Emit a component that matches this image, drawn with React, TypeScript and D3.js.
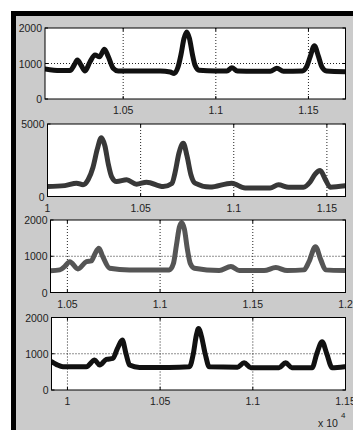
import * as d3 from 'd3';

// x positions are raw values (axis shows them in units of 10^4)
const panel1X = [10078, 10159, 10213, 10235, 10253, 10273, 10294, 10321, 10348, 10372, 10399, 10419, 10446, 10473, 10591, 10700, 10754, 10775, 10796, 10812, 10828, 10843, 10858, 10874, 10888, 10910, 10997, 11060, 11087, 11116, 11213, 11294, 11330, 11365, 11467, 11489, 11510, 11532, 11554, 11573, 11597, 11700];
const panel1Y = [845, 800, 800, 950, 1100, 950, 790, 1050, 1240, 1190, 1400, 1200, 865, 790, 790, 790, 760, 720, 900, 1250, 1700, 1890, 1700, 1250, 950, 810, 790, 790, 880, 790, 780, 780, 865, 780, 790, 900, 1200, 1500, 1200, 900, 790, 770];

const panel2X = [10000, 10093, 10156, 10191, 10218, 10244, 10268, 10289, 10308, 10327, 10344, 10371, 10425, 10478, 10532, 10621, 10668, 10684, 10706, 10729, 10749, 10770, 10792, 10872, 10989, 11061, 11195, 11240, 11295, 11374, 11410, 11437, 11464, 11491, 11518, 11598];
const panel2Y = [690, 750, 920, 810, 1150, 2000, 3300, 4050, 3500, 2200, 1375, 1030, 1150, 850, 990, 690, 900, 1600, 3000, 3670, 2800, 1500, 920, 650, 920, 580, 580, 805, 640, 645, 1000, 1550, 1790, 1200, 645, 736];

const panel3X = [10409, 10459, 10486, 10513, 10557, 10603, 10629, 10647, 10670, 10690, 10728, 10835, 11050, 11072, 11088, 11104, 11116, 11131, 11147, 11163, 11185, 11319, 11382, 11427, 11561, 11624, 11685, 11776, 11803, 11838, 11867, 11893, 11995];
const panel3Y = [600, 625, 720, 850, 650, 850, 870, 1050, 1220, 1000, 670, 624, 624, 800, 1300, 1800, 1926, 1750, 1200, 800, 670, 605, 715, 605, 605, 688, 605, 624, 850, 1265, 900, 624, 605];

const panel4X = [9914, 9942, 9976, 10102, 10147, 10174, 10210, 10245, 10270, 10296, 10316, 10335, 10389, 10550, 10658, 10679, 10695, 10707, 10722, 10743, 10765, 10917, 10953, 10990, 11141, 11177, 11211, 11320, 11345, 11374, 11399, 11428, 11495];
const panel4Y = [780, 700, 641, 641, 825, 688, 844, 872, 1150, 1376, 1000, 688, 624, 624, 641, 1000, 1500, 1697, 1500, 1000, 641, 630, 751, 614, 614, 751, 614, 614, 1000, 1330, 1000, 614, 641];

const panel1XTicks = [10500, 11000, 11500];
const panel2XTicks = [10000, 10500, 11000, 11500];
const panel3XTicks = [10500, 11000, 11500, 12000];
const panel4XTicks = [10000, 10500, 11000, 11500];

const yTicks2000 = [0, 1000, 2000];
const yTicks5000 = [0, 5000];

interface Panel {
  xs: number[];
  ys: number[];
  xDomain: [number, number];
  yMax: number;
  xTicks: number[];
  yTicks: number[];
  box: { left: number; right: number; top: number; bottom: number };
  color: string;
}

const panels: Panel[] = [
  { xs: panel1X, ys: panel1Y, xDomain: [10078, 11700], yMax: 2000, xTicks: panel1XTicks, yTicks: yTicks2000, box: { left: 45, right: 345.5, top: 28, bottom: 99 }, color: '#111' },
  { xs: panel2X, ys: panel2Y, xDomain: [10000, 11600], yMax: 5000, xTicks: panel2XTicks, yTicks: yTicks5000, box: { left: 47.5, right: 345.5, top: 124, bottom: 196.5 }, color: '#383838' },
  { xs: panel3X, ys: panel3Y, xDomain: [10409, 12000], yMax: 2000, xTicks: panel3XTicks, yTicks: yTicks2000, box: { left: 50.5, right: 345.5, top: 220, bottom: 292.5 }, color: '#555' },
  { xs: panel4X, ys: panel4Y, xDomain: [9914, 11500], yMax: 2000, xTicks: panel4XTicks, yTicks: yTicks2000, box: { left: 51.5, right: 345.5, top: 317.5, bottom: 390 }, color: '#111' }
];

const fmtX = (d: number) => String(+(d / 1e4).toFixed(2));
const font = '"Liberation Sans", Arial, sans-serif';

function Subplot({ p, i }: { p: Panel; i: number }) {
  const { box } = p;
  const x = d3.scaleLinear().domain(p.xDomain).range([box.left, box.right]);
  const y = d3.scaleLinear().domain([0, p.yMax]).range([box.bottom, box.top]);
  const line = d3
    .line<number>()
    .x((_, k) => x(p.xs[k]))
    .y((d) => y(d))
    .curve(d3.curveMonotoneX);
  const clipId = `clip${i}`;
  const tickLen = 3;

  return (
    <g>
      <defs>
        <clipPath id={clipId}>
          <rect x={box.left} y={box.top} width={box.right - box.left} height={box.bottom - box.top} />
        </clipPath>
      </defs>
      <rect x={box.left} y={box.top} width={box.right - box.left} height={box.bottom - box.top} fill="#fff" />
      {/* dotted grid */}
      {p.xTicks.map((t) => (
        <line key={'gx' + t} x1={x(t)} x2={x(t)} y1={box.top} y2={box.bottom} stroke="#222" strokeDasharray="1,2" />
      ))}
      {p.yTicks
        .filter((t) => t > 0 && t < p.yMax)
        .map((t) => (
          <line key={'gy' + t} x1={box.left} x2={box.right} y1={y(t)} y2={y(t)} stroke="#222" strokeDasharray="1,2" />
        ))}
      <path
        d={line(p.ys) ?? ''}
        fill="none"
        stroke={p.color}
        strokeWidth={5}
        strokeLinejoin="round"
        strokeLinecap="round"
        clipPath={`url(#${clipId})`}
      />
      {/* inside ticks on all sides */}
      {p.xTicks.map((t) => (
        <g key={'tx' + t}>
          <line x1={x(t)} x2={x(t)} y1={box.bottom} y2={box.bottom - tickLen} stroke="#000" />
          <line x1={x(t)} x2={x(t)} y1={box.top} y2={box.top + tickLen} stroke="#000" />
          <text x={x(t)} y={box.bottom + 15} textAnchor="middle" fontSize={10.5} fontFamily={font} fill="#222">
            {fmtX(t)}
          </text>
        </g>
      ))}
      {p.yTicks.map((t) => (
        <g key={'ty' + t}>
          <line x1={box.left} x2={box.left + tickLen} y1={y(t)} y2={y(t)} stroke="#000" />
          <line x1={box.right} x2={box.right - tickLen} y1={y(t)} y2={y(t)} stroke="#000" />
          <text x={box.left - 3} y={y(t) + 4} textAnchor="end" fontSize={10.5} fontFamily={font} fill="#222">
            {t}
          </text>
        </g>
      ))}
      <rect x={box.left} y={box.top} width={box.right - box.left} height={box.bottom - box.top} fill="none" stroke="#000" strokeWidth={1} />
    </g>
  );
}

export default function App() {
  const width = 353;
  const height = 430;
  return (
    <svg width={width} height={height} style={{ position: 'absolute', left: 0, top: 0 }}>
      <rect x={0} y={0} width={width} height={height} fill="#fff" />
      <rect x={11} y={11} width={width - 11} height={height - 11} fill="#000" />
      <rect x={16} y={16} width={width - 16} height={height - 16} fill="#cbcbcb" />
      {panels.map((p, i) => (
        <Subplot key={i} p={p} i={i} />
      ))}
      <text x={318} y={427} fontSize={10.5} fontFamily={font} fill="#222">
        x 10
      </text>
      <text x={341} y={418} fontSize={8} fontFamily={font} fill="#222">
        4
      </text>
    </svg>
  );
}
